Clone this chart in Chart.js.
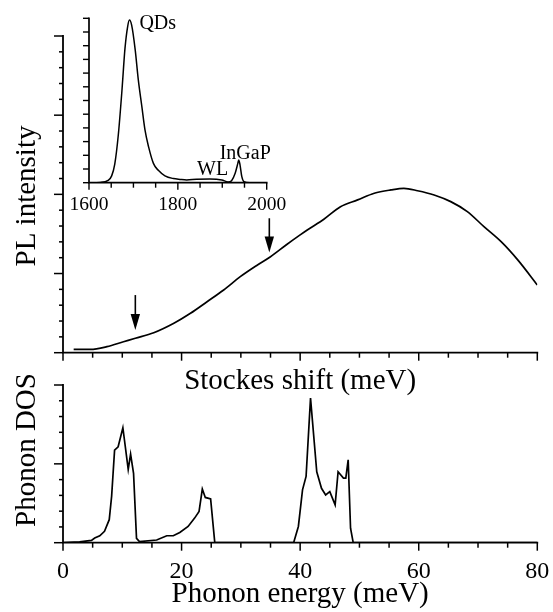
<!DOCTYPE html>
<html><head><meta charset="utf-8">
<script src="https://cdn.jsdelivr.net/npm/chart.js@4.4.1/dist/chart.umd.min.js"></script>
<style>
html,body{margin:0;padding:0;background:#fff;}
#wrap{position:relative;width:553px;height:612px;overflow:hidden;background:#fff;}
canvas{position:absolute;}
</style></head><body>
<div id="wrap">
<canvas id="top" width="553" height="400" style="left:0;top:0"></canvas>
<canvas id="bot" width="553" height="252" style="left:0;top:360px"></canvas>
<canvas id="ins" width="250" height="230" style="left:40px;top:0"></canvas>
</div>
<script>
// ---- data ----
const plShift = [1.8,4.6,7.4,10.2,12.2,15.3,18.7,21.5,24.3,27.1,29.9,32.8,35.0,37.8,40.0,41.2,44.0,46.8,49.7,52.5,55.3,57.5,59.8,62.6,65.4,68.2,71.0,73.9,76.7,80.0];
const plIntensity = [0.21,0.21,0.38,0.69,0.91,1.26,1.86,2.49,3.22,3.96,4.80,5.54,6.06,6.85,7.44,7.75,8.43,9.22,9.65,10.07,10.28,10.38,10.23,9.96,9.54,8.91,7.96,7.01,5.86,4.28];
const arrowShift = [12.2, 34.8];
const arrowTail = [3.64, 8.49];
const arrowTip = [1.43, 6.32];

const dosEnergy = [0,2.8,4.8,5.35,6.2,7.0,7.8,8.2,8.45,8.7,9.3,10.1,11.0,11.4,11.9,12.4,12.9,15.8,17.5,18.6,19.7,21.1,22.2,22.95,23.5,24.0,24.9,25.6,38.9,39.7,40.4,41.0,41.75,42.8,43.6,44.3,45.0,45.9,46.4,47.3,47.7,48.1,48.5,48.95,80];
const dosValue = [0,0.05,0.15,0.3,0.44,0.72,1.46,2.94,4.4,5.87,6.08,7.29,4.65,5.62,4.4,0.28,0.07,0.17,0.44,0.44,0.65,1.03,1.56,1.98,3.4,2.87,2.77,0,0,1.03,3.35,4.2,9.17,4.5,3.45,3.03,3.24,2.4,4.5,4.1,4.1,5.26,0.92,0,0];

const insetEnergy = [1600,1625,1643,1651,1658,1666,1674,1681,1687,1691,1696,1704,1711,1719,1726,1734,1745,1756,1771,1790,1805,1820,1842,1872,1899,1913,1921,1929,1935,1937,1940,1944,1949,1962,2000];
const insetIntensity = [0,0.02,0.17,0.5,1.36,3.5,6.66,9.8,11.4,11.87,11.5,9.7,7.5,5.55,3.85,2.63,1.41,0.9,0.5,0.3,0.24,0.2,0.25,0.27,0.2,0.05,0.15,0.69,1.41,1.66,1.29,0.44,0.07,0,0];
const insetLabels = ['QDs','WL','InGaP'];
const mainTickLabels = [0,20,40,60,80];
const insetTickLabels = [1600,1800,2000];

const SERIF = "'Liberation Serif','Times New Roman',serif";

function pts(xs, ys){ return xs.map((x,i)=>({x:x, y:ys[i]})); }

// axis lines + tick marks
const axesPlugin = {
  id: 'axesDraw',
  afterDraw(chart, args, o) {
    const ctx = chart.ctx, a = chart.chartArea;
    ctx.save();
    ctx.strokeStyle = '#000';
    ctx.lineWidth = o.lw;
    ctx.lineCap = 'square';
    ctx.beginPath();
    ctx.moveTo(a.left, a.top); ctx.lineTo(a.left, a.bottom); ctx.lineTo(a.right, a.bottom);
    ctx.stroke();
    ctx.lineCap = 'butt';
    ctx.lineWidth = o.tw;
    for (const id of ['x','y']) {
      const t = o[id]; const s = chart.scales[id];
      const n = Math.round((s.max - s.min)/t.step);
      for (let k=0;k<=n;k++){
        const v = s.min + k*t.step;
        const major = Math.abs((v - s.min)/t.major - Math.round((v - s.min)/t.major)) < 1e-6;
        const len = major ? t.majorLen : t.minorLen;
        const p = s.getPixelForValue(v);
        ctx.beginPath();
        if (id==='x'){ ctx.moveTo(p, a.bottom); ctx.lineTo(p, a.bottom+len); }
        else { ctx.moveTo(a.left, p); ctx.lineTo(a.left-len, p); }
        ctx.stroke();
      }
    }
    ctx.restore();
  }
};

const yTitlePlugin = {
  id: 'yTitle',
  afterDraw(chart, args, o) {
    const ctx = chart.ctx;
    ctx.save();
    ctx.fillStyle = '#000';
    ctx.font = o.size + 'px ' + SERIF;
    ctx.textAlign = 'center';
    ctx.textBaseline = 'middle';
    ctx.translate(o.x, o.y);
    ctx.rotate(-Math.PI/2);
    ctx.fillText(o.text, 0, 0);
    ctx.restore();
  }
};

const arrowPlugin = {
  id: 'arrows',
  afterDatasetsDraw(chart) {
    const ctx = chart.ctx, xs = chart.scales.x, ys = chart.scales.y;
    ctx.save();
    ctx.strokeStyle = '#000'; ctx.fillStyle = '#000'; ctx.lineWidth = 1.6;
    for (let i=0;i<arrowShift.length;i++){
      const x = xs.getPixelForValue(arrowShift[i]);
      const y1 = ys.getPixelForValue(arrowTail[i]);
      const y2 = ys.getPixelForValue(arrowTip[i]);
      const head = 16, hw = 4.7;
      ctx.beginPath(); ctx.moveTo(x, y1); ctx.lineTo(x, y2-head+2); ctx.stroke();
      ctx.beginPath(); ctx.moveTo(x-hw, y2-head); ctx.lineTo(x+hw, y2-head); ctx.lineTo(x, y2); ctx.closePath(); ctx.fill();
    }
    ctx.restore();
  }
};

const insetLabelPlugin = {
  id: 'insetLabels',
  afterDraw(chart, args, o) {
    const ctx = chart.ctx, xs = chart.scales.x, ys = chart.scales.y;
    ctx.save();
    ctx.fillStyle = '#000';
    ctx.font = o.size + 'px ' + SERIF;
    ctx.textBaseline = 'alphabetic';
    ctx.textAlign = 'left';
    o.items.forEach((it, i) => {
      ctx.fillText(insetLabels[i], xs.getPixelForValue(it.e) + it.dx, ys.getPixelForValue(it.v) + it.dy);
    });
    ctx.restore();
  }
};

Chart.defaults.font.family = SERIF;
Chart.defaults.color = '#000';

const common = {
  responsive: false, animation: false, devicePixelRatio: 1,
};
function fixX(h){ return function(s){ s.height = h; s.paddingLeft = 0; s.paddingRight = 0; }; }
function fixY(w){ return function(s){ s.width = w; s.paddingTop = 0; s.paddingBottom = 0; }; }

// top: PL vs Stokes shift
new Chart(document.getElementById('top'), {
  type: 'line',
  data: { datasets: [{ data: pts(plShift, plIntensity), borderColor: '#000', borderWidth: 1.7, pointRadius: 0, fill: false, cubicInterpolationMode: 'monotone' }] },
  options: Object.assign({}, common, {
    layout: { padding: { left: 0, top: 36, right: 15.7, bottom: 0 } },
    plugins: {
      legend: { display: false }, tooltip: { enabled: false },
      axesDraw: { lw: 1.8, tw: 1.5, x: { step: 5, major: 20, majorLen: 8, minorLen: 5 }, y: { step: 1, major: 5, majorLen: 9, minorLen: 4 } },
      yTitle: { text: 'PL intensity', x: 27, y: 196, size: 29 }
    },
    scales: {
      x: { type: 'linear', min: 0, max: 80,
        grid: { display: false, drawTicks: false }, border: { display: false },
        ticks: { display: false, stepSize: 5 },
        title: { display: true, text: 'Stockes shift (meV)', font: { family: SERIF, size: 29 }, color: '#000', padding: { top: 0, bottom: 1 } },
        afterFit: fixX(47.3) },
      y: { type: 'linear', min: 0, max: 20,
        grid: { display: false, drawTicks: false }, border: { display: false },
        ticks: { display: false, stepSize: 1 },
        afterFit: fixY(63) }
    }
  }),
  plugins: [axesPlugin, yTitlePlugin, arrowPlugin]
});

// bottom: phonon DOS
new Chart(document.getElementById('bot'), {
  type: 'line',
  data: { datasets: [{ data: pts(dosEnergy, dosValue), borderColor: '#000', borderWidth: 1.7, pointRadius: 0, fill: false, tension: 0 }] },
  options: Object.assign({}, common, {
    layout: { padding: { left: 0, top: 25, right: 15.7, bottom: 0 } },
    plugins: {
      legend: { display: false }, tooltip: { enabled: false },
      axesDraw: { lw: 1.8, tw: 1.5, x: { step: 5, major: 20, majorLen: 8, minorLen: 5 }, y: { step: 1, major: 5, majorLen: 9, minorLen: 4 } },
      yTitle: { text: 'Phonon DOS', x: 27, y: 90, size: 29 }
    },
    scales: {
      x: { type: 'linear', min: 0, max: 80,
        grid: { display: false, drawTicks: false }, border: { display: false },
        ticks: { stepSize: 5, autoSkip: false, maxRotation: 0, padding: 15, font: { family: SERIF, size: 24 }, color: '#000',
          callback: (v) => mainTickLabels.includes(v) ? String(v) : '' },
        title: { display: true, text: 'Phonon energy (meV)', font: { family: SERIF, size: 29 }, color: '#000', padding: { top: 0, bottom: 0 } },
        afterFit: fixX(69.3) },
      y: { type: 'linear', min: 0, max: 10,
        grid: { display: false, drawTicks: false }, border: { display: false },
        ticks: { display: false, stepSize: 1 },
        afterFit: fixY(63) }
    }
  }),
  plugins: [axesPlugin, yTitlePlugin]
});

// inset: PL spectrum
new Chart(document.getElementById('ins'), {
  type: 'line',
  data: { datasets: [{ data: pts(insetEnergy, insetIntensity), borderColor: '#000', borderWidth: 1.5, pointRadius: 0, fill: false, cubicInterpolationMode: 'monotone' }] },
  options: Object.assign({}, common, {
    layout: { padding: { left: 0, top: 18.3, right: 23.3, bottom: 0 } },
    plugins: {
      legend: { display: false }, tooltip: { enabled: false },
      axesDraw: { lw: 1.7, tw: 1.4, x: { step: 50, major: 200, majorLen: 7, minorLen: 5 }, y: { step: 1, major: 1, majorLen: 6, minorLen: 6 } },
      insetLabels: { size: 20, items: [ { e: 1691, v: 11.87, dx: 10, dy: 9 }, { e: 1850, v: 0.25, dx: -3, dy: -4.5 }, { e: 1937, v: 1.66, dx: -19, dy: -1 } ] }
    },
    scales: {
      x: { type: 'linear', min: 1600, max: 2000,
        grid: { display: false, drawTicks: false }, border: { display: false },
        ticks: { stepSize: 50, autoSkip: false, maxRotation: 0, padding: 10, font: { family: SERIF, size: 19.5 }, color: '#000',
          callback: (v) => insetTickLabels.includes(v) ? String(v) : '' },
        afterFit: fixX(47.3) },
      y: { type: 'linear', min: 0, max: 12,
        grid: { display: false, drawTicks: false }, border: { display: false },
        ticks: { display: false, stepSize: 1 },
        afterFit: fixY(49) }
    }
  }),
  plugins: [axesPlugin, insetLabelPlugin]
});
</script>
</body></html>
